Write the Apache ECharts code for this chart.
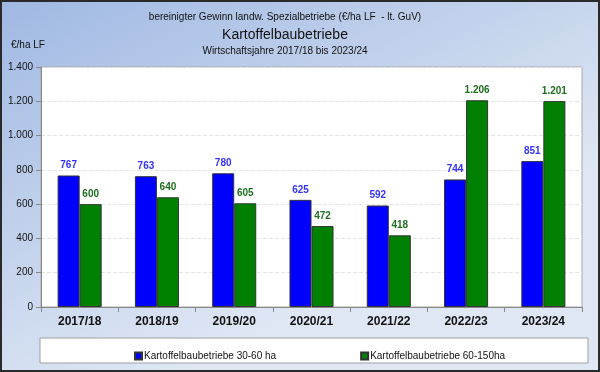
<!DOCTYPE html>
<html><head><meta charset="utf-8">
<script src="https://cdn.jsdelivr.net/npm/echarts@6/dist/echarts.min.js"></script>
<style>html,body{margin:0;padding:0;background:#fff}#c{width:600px;height:372px}</style>
</head><body><div id="c"></div>
<script>
const categories = ['2017/18','2018/19','2019/20','2020/21','2021/22','2022/23','2023/24'];
const series1Name = 'Kartoffelbaubetriebe 30-60 ha';
const series1 = [767, 763, 780, 625, 592, 744, 851];
const series2Name = 'Kartoffelbaubetriebe 60-150ha';
const series2 = [600, 640, 605, 472, 418, 1206, 1201];
const yTicks = [0, 200, 400, 600, 800, 1000, 1200, 1400];

function de(v){ return String(v).replace(/\B(?=(\d{3})+(?!\d))/g, '.'); }

const chart = echarts.init(document.getElementById('c'));
chart.setOption({
  backgroundColor: new echarts.graphic.LinearGradient(0,0,0.3,1,[{offset:0,color:'#9fb8e3'},{offset:0.5,color:'#c0d0eb'},{offset:1,color:'#dfe7f4'}]),
  animation:false,
  textStyle:{fontFamily:'Liberation Sans, Arial, sans-serif'},
  graphic:[
    {type:'rect', shape:{x:1,y:1,width:598,height:370}, style:{fill:'none',stroke:'#2a2a2a',lineWidth:2}, silent:true},
    {type:'rect', shape:{x:40,y:338,width:548,height:25}, style:{fill:'#ffffff',stroke:'#a0a0a0',lineWidth:1}, silent:true},
    {type:'text', x:285, y:12, style:{text:'bereinigter Gewinn landw. Spezialbetriebe (€/ha LF  - lt. GuV)', textAlign:'center', font:'10px Liberation Sans, Arial', fill:'#111'}},
    {type:'text', x:285, y:28, style:{text:'Kartoffelbaubetriebe', textAlign:'center', font:'14px Liberation Sans, Arial', fill:'#111'}},
    {type:'text', x:285, y:46, style:{text:'Wirtschaftsjahre 2017/18 bis 2023/24', textAlign:'center', font:'10px Liberation Sans, Arial', fill:'#111'}},
    {type:'text', x:11, y:40, style:{text:'€/ha LF', font:'10px Liberation Sans, Arial', fill:'#111'}}
  ],
  grid:{left:41, right:18, top:67, bottom:65, show:true, backgroundColor:'#ffffff', borderColor:'#a8a8a8', borderWidth:1},
  legend:{
    data:[series1Name, series2Name], left:129, top:346, itemWidth:7, itemHeight:7, itemGap:84,
    textStyle:{fontSize:10, color:'#111', fontFamily:'Liberation Sans, Arial', padding:[0,0,0,-3]}, icon:'rect'
  },
  xAxis:{
    type:'category', data:categories,
    axisLine:{lineStyle:{color:'#888'}},
    axisTick:{show:true, lineStyle:{color:'#888'}},
    axisLabel:{fontSize:12, fontWeight:'bold', color:'#111', margin:9}
  },
  yAxis:{
    type:'value', min:0, max:1400, interval:200,
    axisLine:{show:true, lineStyle:{color:'#888'}},
    axisTick:{show:true, lineStyle:{color:'#888'}},
    axisLabel:{fontSize:10, color:'#111', margin:8, formatter:v=>de(v)},
    splitLine:{lineStyle:{color:'#e4e4e4', type:'dashed'}}
  },
  series:[
    {name:series1Name, type:'bar', data:series1, barGap:'0%', barCategoryGap:'43%',
     itemStyle:{color:'#0000ff', borderColor:'#333', borderWidth:1},
     label:{show:true, position:'top', distance:5, fontSize:10, fontWeight:'bold', color:'#3333ff', formatter:p=>de(p.value)}},
    {name:series2Name, type:'bar', data:series2, barCategoryGap:'43%',
     itemStyle:{color:'#008000', borderColor:'#333', borderWidth:1},
     label:{show:true, position:'top', distance:5, fontSize:10, fontWeight:'bold', color:'#1e6e1e', formatter:p=>de(p.value)}}
  ]
});
</script></body></html>
